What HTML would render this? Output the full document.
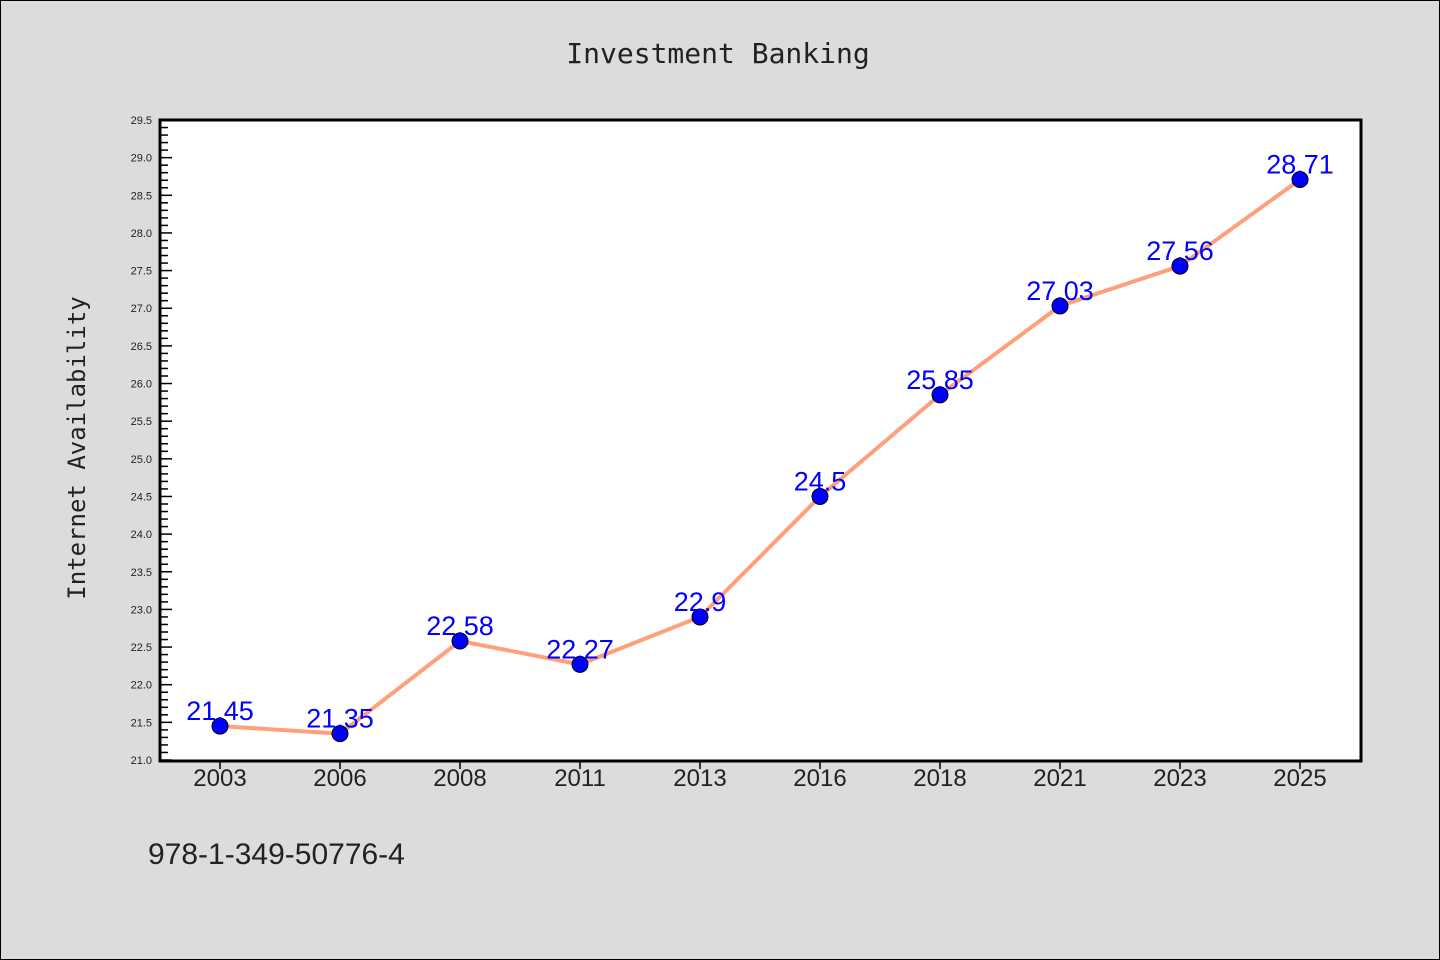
<!DOCTYPE html>
<html><head><meta charset="utf-8"><style>
body{margin:0;background:#dcdcdc;}
svg{display:block;font-family:"Liberation Sans","DejaVu Sans",sans-serif;}
</style></head><body>
<svg width="1440" height="960">
<rect x="0.5" y="0.5" width="1439" height="959" fill="#dcdcdc" stroke="#000"/>
<text x="718" y="63" text-anchor="middle" font-size="28" font-family="DejaVu Sans Mono, monospace" fill="#222">Investment Banking</text>
<text transform="translate(85,448) rotate(-90)" text-anchor="middle" font-size="24" font-family="DejaVu Sans Mono, monospace" fill="#222">Internet Availability</text>
<text x="148" y="864" font-size="30" fill="#222">978-1-349-50776-4</text>
<rect x="160" y="120" width="1201" height="641" fill="#fff"/>
<g id="axes"></g>
<g id="marks"></g>
<rect x="160" y="120" width="1201" height="641" fill="none" stroke="#000" stroke-width="3"/>
</svg>
<script>
const categories=["2003","2006","2008","2011","2013","2016","2018","2021","2023","2025"];
const values=[21.45,21.35,22.58,22.27,22.9,24.5,25.85,27.03,27.56,28.71];
const valueLabels=["21.45","21.35","22.58","22.27","22.9","24.5","25.85","27.03","27.56","28.71"];
const yMin=21.0,yMax=29.5;
const NS="http://www.w3.org/2000/svg";
const X0=160,X1=1361,Y0=760,Y1=120;
function xs(i){return 220+i*(1080/(categories.length-1));}
function ys(v){return Y0-(v-yMin)/(yMax-yMin)*(Y0-Y1);}
function mk(t,a,p){const e=document.createElementNS(NS,t);for(const k in a)e.setAttribute(k,a[k]);p.appendChild(e);return e;}
const ax=document.getElementById('axes'),mg=document.getElementById('marks');
const nMinor=Math.round((yMax-yMin)*10);
for(let k=0;k<=nMinor;k++){const v=yMin+k*0.1;const y=ys(v);const major=k%5===0;
 const t=mk('line',{x1:X0,x2:X0+(major?12:8),y1:y,y2:y,stroke:'#000','stroke-width':1.5},ax);
 
 
 if(major){const l=mk('text',{x:X0-8,y:y+4,'text-anchor':'end','font-size':11,fill:'#222'},ax);l.textContent=v.toFixed(1);
 
 }}
categories.forEach((c,i)=>{const x=xs(i);
 const t=mk('line',{x1:x,x2:x,y1:761,y2:769,stroke:'#000','stroke-width':1.5},ax);
 
 
 const l=mk('text',{x:x,y:786,'text-anchor':'middle','font-size':24,fill:'#222'},ax);l.textContent=c;
 
 });
const line=mk('polyline',{points:values.map((v,i)=>xs(i)+','+ys(v)).join(' '),fill:'none',stroke:'#ffa07a','stroke-width':4},mg);


values.forEach((v,i)=>{
 const c=mk('circle',{cx:xs(i),cy:ys(v),r:8,fill:'#0000ff',stroke:'#000','stroke-width':1},mg);
 
 
 const l=mk('text',{x:xs(i),y:ys(v)-6,'text-anchor':'middle','font-size':27,fill:'#0000ff'},mg);l.textContent=valueLabels[i];
 
 });
</script>
</body></html>
